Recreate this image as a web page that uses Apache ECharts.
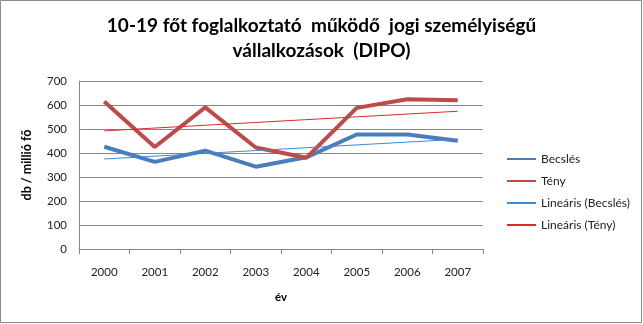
<!DOCTYPE html>
<html>
<head>
<meta charset="utf-8">
<script src="https://cdn.jsdelivr.net/npm/echarts@6/dist/echarts.min.js"></script>
<style>
  html, body { margin: 0; padding: 0; background: #fff; }
  #chart { width: 643px; height: 324px; }
</style>
</head>
<body>
<div id="chart"></div>
<script>
// Years on the category axis
const years = ['2000', '2001', '2002', '2003', '2004', '2005', '2006', '2007'];
// Estimated vs. actual counts (db / millió fő)
const becsles = [426, 363, 410, 343, 382, 477, 477, 451];
const teny = [615, 425, 590, 423, 380, 588, 624, 620];
// Value axis range
const yMin = 0, yMax = 700, yStep = 100;

// Least-squares linear trend over the category index
function linearTrend(values) {
  const n = values.length;
  let sx = 0, sy = 0, sxx = 0, sxy = 0;
  values.forEach((v, i) => { sx += i; sy += v; sxx += i * i; sxy += i * v; });
  const slope = (n * sxy - sx * sy) / (n * sxx - sx * sx);
  const icpt = (sy - slope * sx) / n;
  return values.map((_, i) => +(icpt + slope * i).toFixed(2));
}

const FONT = 'Lato, "Open Sans", sans-serif';
const chart = echarts.init(document.getElementById('chart'), null, { renderer: 'canvas' });

chart.setOption({
  animation: false,
  backgroundColor: '#ffffff',
  title: {
    text: '10-19 főt foglalkoztató  működő  jogi személyiségű\nvállalkozások  (DIPO)',
    left: 'center',
    top: 8,
    textStyle: { fontFamily: FONT, fontSize: 19, fontWeight: 'bold', color: '#000', lineHeight: 25 }
  },
  graphic: [{
    type: 'rect',
    shape: { x: 0.5, y: 0.5, width: 641, height: 322 },
    style: { fill: 'none', stroke: '#8c8c8c', lineWidth: 1 },
    silent: true
  }],
  legend: {
    orient: 'vertical',
    left: 501,
    top: 148,
    itemWidth: 29,
    itemHeight: 10,
    itemGap: 10,
    itemStyle: { opacity: 0 },
    textStyle: { fontFamily: FONT, fontSize: 12, color: '#222' },
    data: ['Becslés', 'Tény', 'Lineáris (Becslés)', 'Lineáris (Tény)']
  },
  grid: { left: 79, right: 160, top: 81, bottom: 75, containLabel: false },
  xAxis: {
    type: 'category',
    data: years,
    boundaryGap: true,
    name: 'év',
    nameLocation: 'middle',
    nameGap: 42,
    nameTextStyle: { fontFamily: FONT, fontSize: 11.5, fontWeight: 'bold', color: '#000' },
    axisLine: { lineStyle: { color: '#868686' } },
    axisTick: { show: true, length: 5, lineStyle: { color: '#868686' } },
    axisLabel: { fontFamily: FONT, fontSize: 11.5, color: '#222', margin: 17 }
  },
  yAxis: {
    type: 'value',
    min: yMin, max: yMax, interval: yStep,
    name: 'db / millió fő',
    nameLocation: 'middle',
    nameGap: 46,
    nameRotate: 90,
    nameTextStyle: { fontFamily: FONT, fontSize: 12.5, fontWeight: 'bold', color: '#000' },
    axisLine: { show: true, lineStyle: { color: '#868686' } },
    axisTick: { show: false },
    splitLine: { lineStyle: { color: '#878787', width: 1 } },
    axisLabel: { fontFamily: FONT, fontSize: 11.5, color: '#222', margin: 12 }
  },
  series: [
    {
      name: 'Becslés', type: 'line', data: becsles, symbol: 'none',
      lineStyle: { color: '#4A7EBB', width: 4 }, itemStyle: { color: '#4A7EBB' }, z: 3
    },
    {
      name: 'Tény', type: 'line', data: teny, symbol: 'none',
      lineStyle: { color: '#BE4B48', width: 4 }, itemStyle: { color: '#BE4B48' }, z: 3
    },
    {
      name: 'Lineáris (Becslés)', type: 'line', data: linearTrend(becsles), symbol: 'none',
      lineStyle: { color: '#3A8AD6', width: 1 }, itemStyle: { color: '#3A8AD6' }, z: 4
    },
    {
      name: 'Lineáris (Tény)', type: 'line', data: linearTrend(teny), symbol: 'none',
      lineStyle: { color: '#D92B2B', width: 1 }, itemStyle: { color: '#D92B2B' }, z: 4
    }
  ]
});
</script>
</body>
</html>
